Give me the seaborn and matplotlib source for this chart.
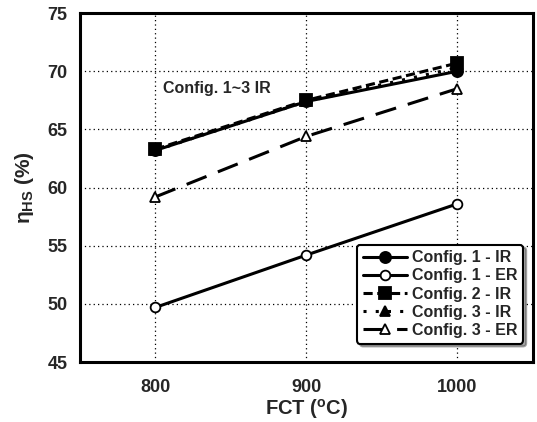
import matplotlib
matplotlib.use("Agg")
import matplotlib.pyplot as plt
import seaborn as sns
import pandas as pd

fct = [800, 900, 1000]
c1_ir = [63.2, 67.4, 70.0]
c1_er = [49.7, 54.2, 58.6]
c2_ir = [63.3, 67.5, 70.7]
c3_ir = [63.2, 67.4, 70.3]
c3_er = [59.2, 64.4, 68.5]
labels = ["Config. 1 - IR", "Config. 1 - ER", "Config. 2 - IR", "Config. 3 - IR", "Config. 3 - ER"]
series = [c1_ir, c1_er, c2_ir, c3_ir, c3_er]

sns.set_style("white")
plt.rcParams['font.family'] = ['Liberation Sans', 'DejaVu Sans']
plt.rcParams['mathtext.fontset'] = 'custom'
plt.rcParams['mathtext.rm'] = 'Liberation Sans:bold'
plt.rcParams['mathtext.it'] = 'Liberation Sans:bold'
plt.rcParams['mathtext.bf'] = 'Liberation Sans:bold'

fig = plt.figure(figsize=(5.37, 4.22), dpi=100)
ax = fig.add_axes([0.149, 0.142, 0.843, 0.827])

styles = [
    dict(linestyle='-', marker='o', markerfacecolor='black', markersize=8),
    dict(linestyle='-', marker='o', markerfacecolor='white', markersize=7),
    dict(linestyle=(0, (3, 1.5)), marker='s', markerfacecolor='black', markersize=9),
    dict(linestyle=(0, (1, 3)), marker='^', markerfacecolor='black', markersize=7),
    dict(linestyle=(0, (7, 4)), marker='^', markerfacecolor='white', markersize=7),
]

for lab, vals, st in zip(labels, series, styles):
    df = pd.DataFrame({"FCT": fct, "eta": vals})
    sns.lineplot(data=df, x="FCT", y="eta", ax=ax, color='black', linewidth=2.2,
                 markeredgecolor='black', markeredgewidth=1.3, label=lab, **st)

ax.set_xlim(750, 1050)
ax.set_ylim(45, 75)
ax.set_xticks([800, 900, 1000])
ax.set_yticks([45, 50, 55, 60, 65, 70, 75])
ax.grid(True, linestyle=(0, (1, 2.5)), color='black', linewidth=0.9)
for s in ax.spines.values():
    s.set_linewidth(2.2)
    s.set_color('black')
ax.tick_params(axis='y', labelsize=13, length=0, pad=9)
ax.tick_params(axis='x', labelsize=13, length=0, pad=12)
for t in ax.get_xticklabels() + ax.get_yticklabels():
    t.set_fontweight('bold')

ax.set_xlabel(r'FCT ($^{\mathrm{o}}$C)', fontsize=14.5, fontweight='bold', labelpad=1)
ax.set_ylabel(r'$\eta_{\mathrm{HS}}$ (%)', fontsize=15, fontweight='bold', labelpad=8)

ax.text(805, 68.55, "Config. 1~3 IR", fontsize=11.5, fontweight='bold', va='center', ha='left')

leg = ax.legend(loc='lower right', bbox_to_anchor=(0.997, 0.03), frameon=True, fancybox=True,
                shadow=True, handlelength=2.8, labelspacing=0.2,
                borderpad=0.35, handletextpad=0.3, prop={'weight': 'bold', 'size': 11.5})
leg.get_frame().set_edgecolor('black')
leg.get_frame().set_linewidth(1.5)
leg.get_frame().set_alpha(1)

fig.savefig("out.png", dpi=100)
